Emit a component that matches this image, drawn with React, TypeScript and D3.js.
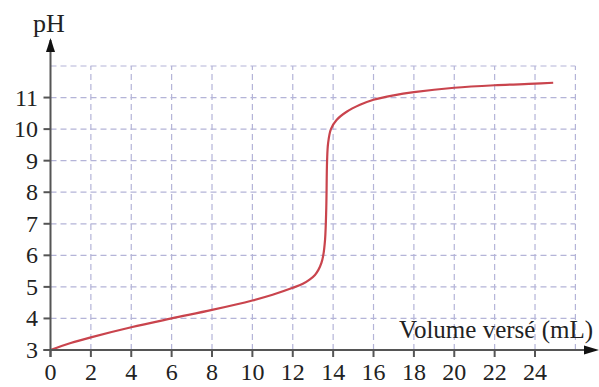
import React from "react";
import * as d3 from "d3";

const volumes = [0, 1, 2, 4, 6, 8, 10, 11, 12, 12.5, 12.85, 13.1, 13.27, 13.42, 13.51, 13.6, 13.66, 13.7, 13.75, 13.89, 14.17, 14.67, 15.33, 16, 17, 18, 20, 22, 24, 24.9];
const phValues = [3, 3.22, 3.4, 3.72, 4.0, 4.27, 4.57, 4.75, 4.97, 5.1, 5.24, 5.38, 5.54, 5.76, 6.0, 6.5, 7.5, 9.0, 9.55, 10.0, 10.29, 10.55, 10.77, 10.93, 11.07, 11.17, 11.31, 11.39, 11.44, 11.47];
const xTicks = [0, 2, 4, 6, 8, 10, 12, 14, 16, 18, 20, 22, 24];
const yTicks = [3, 4, 5, 6, 7, 8, 9, 10, 11];
const xGrid = [2, 4, 6, 8, 10, 12, 14, 16, 18, 20, 22, 24, 26];
const yGrid = [4, 5, 6, 7, 8, 9, 10, 11, 12];
const xLabel = "Volume versé (mL)";
const yLabel = "pH";

export default function App() {
  const x = d3.scaleLinear().domain([0, 26]).range([50.5, 575.4]);
  const y = d3.scaleLinear().domain([3, 12]).range([350, 66]);
  const data = volumes.map((v, i) => [v, phValues[i]] as [number, number]);
  const line = d3
    .line<[number, number]>()
    .x((d) => x(d[0]))
    .y((d) => y(d[1]))
    .curve(d3.curveCatmullRom.alpha(0.5));
  const font = '"Liberation Serif", "DejaVu Serif", serif';
  const gridColor = "#b4b4d8";
  const axisColor = "#555";
  return (
    <svg
      width={599}
      height={387}
      style={{ position: "absolute", left: 0, top: 0, fontFamily: font }}
    >
      {xGrid.map((g) => (
        <line key={"gx" + g} x1={x(g)} x2={x(g)} y1={y(3)} y2={y(12)} stroke={gridColor} strokeWidth={1.2} strokeDasharray="6,4" />
      ))}
      {yGrid.map((g) => (
        <line key={"gy" + g} x1={x(0)} x2={x(26)} y1={y(g)} y2={y(g)} stroke={gridColor} strokeWidth={1.2} strokeDasharray="6,4" />
      ))}
      <path d={line(data) || ""} fill="none" stroke="#c9444d" strokeWidth={2.2} />
      <line x1={x(0)} x2={x(0)} y1={y(3) + 7} y2={40} stroke={axisColor} strokeWidth={2} />
      <path d={`M${x(0) - 4.5},${52} L${x(0)},${38} L${x(0) + 4.5},${52} Z`} fill="#111" />
      <line x1={x(0) - 7} x2={588} y1={y(3)} y2={y(3)} stroke={axisColor} strokeWidth={2} />
      <path d={`M${584},${y(3) - 4.5} L${599},${y(3)} L${584},${y(3) + 4.5} Z`} fill="#111" />
      {xTicks.map((t) => (
        <g key={"xt" + t}>
          <line x1={x(t)} x2={x(t)} y1={y(3)} y2={y(3) + 7} stroke={axisColor} strokeWidth={2} />
          <text x={x(t)} y={y(3) + 30} textAnchor="middle" fontSize={24} fill="#222">
            {t}
          </text>
        </g>
      ))}
      {yTicks.map((t) => (
        <g key={"yt" + t}>
          <line x1={x(0) - 7} x2={x(0)} y1={y(t)} y2={y(t)} stroke={axisColor} strokeWidth={2} />
          <text x={38} y={y(t) + 8} textAnchor="end" fontSize={24} fill="#222">
            {t}
          </text>
        </g>
      ))}
      <text x={593} y={338} textAnchor="end" fontSize={25} fill="#222">
        {xLabel}
      </text>
      <text x={49} y={32} textAnchor="middle" fontSize={26} fill="#222">
        {yLabel}
      </text>
    </svg>
  );
}
